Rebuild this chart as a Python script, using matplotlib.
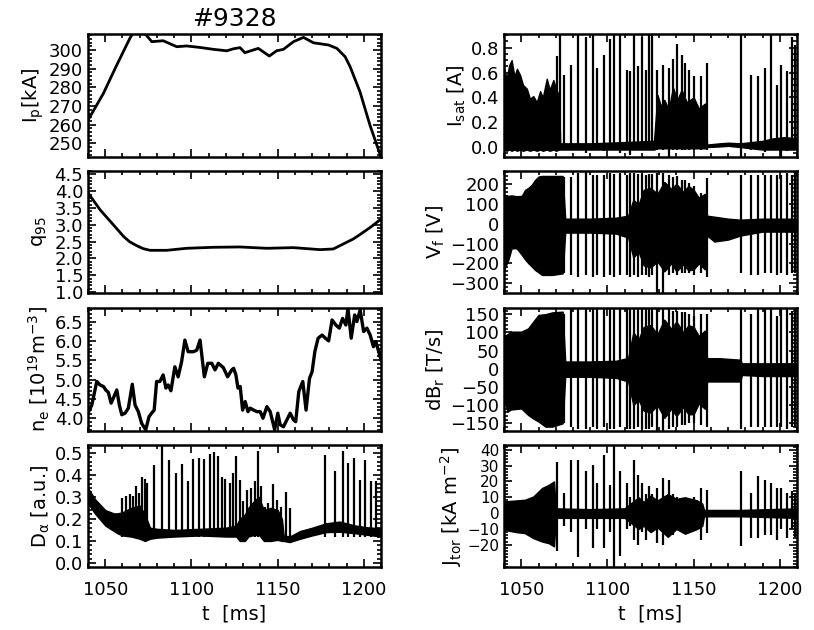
import matplotlib
matplotlib.use('Agg')
import matplotlib.pyplot as plt
import numpy as np
from matplotlib.ticker import MultipleLocator, FixedLocator

plt.rcParams['font.family'] = ['DejaVu Sans']
plt.rcParams['mathtext.default'] = 'regular'

shot = '#9328'

# ---- left column: slow signals ----
ip_t = [1040, 1048.9, 1056.7, 1064.4, 1067, 1072, 1077, 1083.6, 1091.5, 1097.2, 1105, 1112.7,
        1120.5, 1124.4, 1128.2, 1131, 1138.8, 1145.2, 1149.4, 1153.4, 1159.2, 1165, 1170.8,
        1179.6, 1184.4, 1189.2, 1192.1, 1197.8, 1203.6, 1210]
ip = [262.4, 276.7, 292.0, 306.5, 310.5, 310.0, 304.5, 305.0, 301.8, 302.2, 301.4, 300.4,
      299.6, 300.7, 301.3, 298.6, 300.9, 296.8, 299.6, 300.4, 304.5, 306.8, 303.9,
      302.7, 300.9, 296.4, 291.0, 277.6, 259.7, 242.6]

q95_t = [1040, 1047.1, 1054.7, 1060.5, 1064, 1068.2, 1072, 1076, 1085.7, 1097.2, 1112.7, 1128.2,
         1143.7, 1159.2, 1174.6, 1182.3, 1190.1, 1194, 1197.8, 1204, 1210]
q95 = [3.95, 3.44, 3.00, 2.66, 2.50, 2.38, 2.29, 2.24, 2.24, 2.30, 2.33, 2.34,
       2.30, 2.32, 2.26, 2.28, 2.48, 2.58, 2.71, 2.93, 3.17]

ne_t = [1040, 1042.2, 1045.1, 1047.0, 1049.0, 1050.3, 1051.8, 1053.4, 1054.7, 1056.7, 1058.2,
        1059.6, 1061.5, 1063.4, 1065.7, 1067.3, 1069.2, 1071.1, 1073.5, 1075.4, 1076.9, 1078.4,
        1079.8, 1081.7, 1083.6, 1085.2, 1086.5, 1088.1, 1090.4, 1092.3, 1094.3, 1096.2, 1098.1,
        1101.2, 1103.1, 1105.0, 1107.5, 1109.5, 1111.8, 1113.7, 1115.6, 1118.5, 1121.0, 1123.4,
        1124.5, 1125.8, 1127.0, 1128.3, 1129.7, 1131.2, 1132.8, 1134.1, 1136.1, 1138.0, 1139.9,
        1141.5, 1143.8, 1145.7, 1148.3, 1150.1, 1151.5, 1153.4, 1155.4, 1157.3, 1159.2, 1160.5,
        1162.3, 1164.6, 1166.5, 1168.5, 1170.0, 1171.6, 1173.5, 1175.8, 1177.7, 1179.6, 1181.6,
        1183.8, 1185.8, 1187.7, 1189.6, 1190.8, 1192.7, 1194.7, 1196.0, 1197.9, 1199.9, 1201.8,
        1203.7, 1205.6, 1207.0, 1210]
ne = [4.13, 4.34, 4.95, 4.86, 4.82, 4.73, 4.67, 4.39, 4.52, 4.73, 4.34,
      4.09, 4.13, 4.26, 4.88, 4.34, 4.17, 3.87, 3.70, 4.04, 4.13, 4.21,
      4.95, 4.95, 5.12, 4.78, 4.86, 4.71, 5.33, 5.07, 5.46, 6.02, 5.72,
      5.72, 5.76, 6.02, 5.07, 5.42, 5.42, 5.25, 5.42, 5.31, 5.07, 5.25,
      5.29, 5.12, 4.78, 4.82, 4.21, 4.43, 4.17, 4.26, 4.21, 4.17, 4.17,
      4.00, 4.30, 4.17, 3.70, 4.13, 3.83, 3.78, 3.96, 4.13, 3.96, 3.91,
      4.69, 4.95, 4.21, 5.03, 5.20, 5.72, 6.07, 6.15, 6.07, 6.00, 6.54,
      6.41, 6.33, 6.58, 6.41, 6.84, 6.07, 6.67, 6.50, 6.80, 6.24, 6.33,
      6.15, 5.85, 5.98, 5.51]

# D-alpha: noisy baseline band plus ELM spikes
da_band_t = [1040, 1044, 1050, 1055, 1057, 1060, 1065, 1070, 1073, 1076, 1080, 1090, 1105, 1120,
             1126, 1128, 1131, 1133, 1135, 1139, 1142, 1146, 1150, 1152.5, 1153.5, 1157, 1163,
             1170, 1178, 1186, 1195, 1202, 1210]
da_lo = [0.27, 0.225, 0.17, 0.145, 0.135, 0.125, 0.12, 0.11, 0.10, 0.11, 0.115, 0.12, 0.125, 0.12,
         0.12, 0.10, 0.10, 0.12, 0.125, 0.13, 0.10, 0.10, 0.105, 0.10, 0.10, 0.095, 0.11,
         0.125, 0.14, 0.142, 0.135, 0.128, 0.12]
da_hi = [0.34, 0.29, 0.24, 0.225, 0.225, 0.23, 0.25, 0.26, 0.22, 0.16, 0.155, 0.15, 0.155, 0.16,
         0.17, 0.20, 0.22, 0.25, 0.27, 0.30, 0.24, 0.25, 0.24, 0.20, 0.125, 0.12, 0.145,
         0.16, 0.18, 0.188, 0.17, 0.162, 0.157]
da_elm_t = [1060.0, 1062.3, 1064.3, 1066.2, 1068.1, 1069.5, 1071.4, 1073.0, 1074.5, 1078.3, 1083.2,
            1087.0, 1091.3, 1094.7, 1098.0, 1101.2, 1104.5, 1107.3, 1110.8, 1113.1, 1115.6,
            1117.9, 1119.5, 1122.4, 1124.3, 1125.8, 1128.3, 1130.2, 1132.2, 1134.7, 1136.6,
            1138.4, 1140.5, 1142.8, 1144.7, 1147.2, 1149.5, 1152.0, 1154.7, 1157.2, 1177.7,
            1183.1, 1187.7, 1191.1, 1194.6, 1197.9, 1200.8, 1204.2, 1206.9]
da_elm = [0.294, 0.302, 0.314, 0.302, 0.347, 0.317, 0.392, 0.380, 0.362, 0.445, 0.540,
          0.465, 0.408, 0.450, 0.373, 0.471, 0.475, 0.471, 0.495, 0.502, 0.486,
          0.392, 0.380, 0.362, 0.408, 0.483, 0.377, 0.279, 0.332, 0.340, 0.370,
          0.509, 0.347, 0.256, 0.271, 0.359, 0.286, 0.256, 0.324, 0.248, 0.491,
          0.415, 0.506, 0.453, 0.476, 0.377, 0.465, 0.370, 0.370]

# ---- right column: probe / magnetic signals ----
elm_t = [1070.5, 1075.0, 1078.7, 1083.1, 1087.6, 1091.5, 1093.8, 1098.2, 1101.5, 1104.0,
         1107.3, 1111.2, 1113.1, 1115.4, 1117.9, 1119.9, 1122.4, 1124.3, 1125.7, 1129.0,
         1132.5, 1135.7, 1138.3, 1140.2, 1143.1, 1145.0, 1147.4, 1150.4, 1154.3, 1157.6,
         1177.3, 1183.1, 1187.6, 1191.4, 1194.7, 1198.2, 1200.7, 1204.0, 1206.9, 1208.9]

isat_env_t = [1040, 1041.5, 1043, 1044.4, 1046, 1047.5, 1049.3, 1051, 1053.2, 1055, 1057, 1059,
              1060.9, 1062.5, 1064.8, 1066.5, 1068.6, 1070.2, 1071.9, 1072.6, 1090,
              1110, 1127, 1129, 1131, 1133, 1135.5, 1138, 1140.5, 1143, 1146, 1150, 1153,
              1156.5, 1157.8, 1165, 1170, 1177, 1190, 1196, 1203, 1210]
isat_hi = [0.64, 0.55, 0.66, 0.70, 0.57, 0.63, 0.58, 0.50, 0.47, 0.39, 0.41, 0.36,
           0.45, 0.40, 0.55, 0.46, 0.54, 0.47, 0.41, 0.03, 0.03,
           0.04, 0.05, 0.42, 0.33, 0.38, 0.30, 0.48, 0.38, 0.46, 0.36, 0.40, 0.31,
           0.35, 0.02, 0.03, 0.035, 0.03, 0.05, 0.07, 0.08, 0.07]
isat_lo = [-0.02, -0.03, -0.02, -0.03, -0.02, -0.03, -0.02, -0.03, -0.02, -0.03, -0.02, -0.03,
           -0.02, -0.03, -0.02, -0.03, -0.02, -0.03, -0.02, -0.02, -0.02,
           -0.02, -0.02, -0.01, -0.01, -0.01, -0.01, -0.01, -0.01, -0.01, -0.01, -0.01, -0.01,
           -0.01, 0.0, 0.005, 0.01, 0.0, -0.02, -0.02, -0.02, -0.02]
isat_up = [0.73, 0.58, 0.66, 0.95, 0.89, 0.95, 0.64, 0.74, 0.87, 0.90,
           0.95, 0.62, 0.61, 0.95, 0.65, 0.89, 0.62, 0.95, 0.95, 0.62,
           0.66, 0.64, 0.71, 0.83, 0.74, 0.68, 0.62, 0.57, 0.57, 0.68,
           0.95, 0.58, 0.57, 0.64, 0.95, 0.50, 0.66, 0.61, 0.89, 0.82]
isat_dn = [-0.03, -0.02, -0.02, -0.02, -0.05, -0.02, -0.02, -0.03, -0.02, -0.02,
           -0.05, -0.02, -0.06, -0.02, -0.02, -0.02, -0.02, -0.02, -0.02, -0.02,
           -0.02, -0.10, -0.02, -0.02, -0.02, -0.02, -0.02, -0.02, -0.02, -0.02,
           -0.10, -0.02, -0.02, -0.04, -0.02, -0.02, -0.10, -0.03, -0.02, -0.02]
isat_glitch_t = [1072.3]

vf_env_t = [1040, 1042.5, 1044.4, 1047.3, 1050.3, 1052.2, 1054.1, 1056, 1058, 1060, 1062, 1068,
            1074, 1075.5, 1090, 1105, 1112, 1115, 1118, 1121, 1125, 1129, 1133, 1137, 1140,
            1144, 1147, 1150, 1153, 1156.5, 1157.8, 1162, 1170, 1177, 1190, 1210]
vf_hi = [145, 140, 142, 138, 140, 170, 180, 195, 220, 237, 240, 240,
         240, 25, 25, 30, 40, 120, 95, 170, 180, 150, 210, 175, 200,
         160, 190, 170, 130, 150, 40, 35, 25, 20, 25, 25]
vf_lo = [-233, -182, -124, -124, -157, -180, -199, -215, -233, -245, -258, -258,
         -250, -45, -45, -50, -70, -170, -140, -210, -220, -190, -240, -200, -240,
         -205, -235, -230, -200, -230, -60, -90, -80, -60, -40, -40]
vf_up = [240, 237, 237, 254, 262, 245, 245, 245, 254, 250,
         254, 245, 254, 254, 250, 250, 245, 250, 250, 254,
         254, 245, 237, 240, 220, 220, 207, 187, 153, 228,
         245, 245, 245, 245, 245, 245, 245, 254, 245, 254]
vf_dn = [-250, -250, -258, -266, -258, -266, -258, -266, -258, -266,
         -258, -258, -266, -258, -266, -258, -258, -266, -258, -360,
         -360, -258, -250, -258, -250, -250, -250, -258, -250, -266,
         -250, -258, -258, -250, -250, -258, -250, -258, -250, -250]

db_env_t = [1040, 1042, 1044, 1050, 1054, 1057, 1060, 1064, 1068, 1074, 1075.5, 1090, 1105, 1112,
            1115, 1118, 1121, 1125, 1129, 1133, 1137, 1140, 1144, 1147, 1150, 1153, 1156.5,
            1157.8, 1165, 1177, 1178, 1190, 1210]
db_hi = [89, 95, 102, 102, 111, 130, 148, 150, 155, 157, 20, 20, 22, 30,
         100, 80, 115, 120, 95, 135, 110, 130, 100, 120, 115, 90, 105,
         29, 29, 25, 15, 15, 15]
db_lo = [-81, -118, -112, -109, -127, -137, -145, -159, -159, -150, -22, -22, -25, -35,
         -100, -85, -115, -120, -100, -135, -110, -130, -105, -125, -125, -95, -110,
         -35, -35, -35, -17, -20, -20]
db_up = [157, 150, 165, 170, 170, 165, 165, 165, 170, 165,
         170, 165, 165, 170, 165, 165, 165, 170, 170, 170,
         170, 165, 160, 160, 155, 155, 150, 145, 150, 150,
         170, 150, 165, 165, 165, 145, 165, 165, 160, 165]
db_dn = [-155, -150, -160, -165, -165, -160, -165, -160, -165, -165,
         -160, -165, -165, -165, -160, -165, -165, -165, -160, -172,
         -172, -165, -160, -160, -155, -155, -150, -150, -155, -160,
         -165, -160, -160, -160, -160, -160, -160, -165, -160, -160]

j_env_t = [1040, 1047, 1052, 1057, 1062, 1066, 1069, 1070, 1090, 1110, 1118, 1121, 1125, 1129,
           1135, 1140, 1145, 1152, 1155, 1156, 1177, 1210]
j_hi = [7.4, 8.0, 8.4, 10.5, 15.8, 17.9, 20.0, 3.0, 2.5, 3.0, 10.0, 7.0, 11.0, 8.0,
        12.0, 9.0, 10.0, 8.0, 6.0, 2.0, 2.0, 3.0]
j_lo = [-10.5, -12.0, -12.6, -15.8, -17.9, -19.0, -21.0, -3.0, -3.0, -3.0, -10.0, -8.0, -12.0,
        -9.0, -15.0, -10.0, -13.0, -10.0, -8.0, -2.0, -2.0, -3.0]
j_up = [32.2, 12.6, 33.7, 33.7, 26.3, 30.5, 18.9, 36.8, 17.9, 45.0,
        26.3, 18.9, 10.0, 33.7, 24.2, 18.9, 12.0, 16.8, 12.0, 15.8,
        22.1, 21.0, 12.0, 10.0, 8.0, 9.0, 8.0, 10.0, 15.8, 14.7,
        26.3, 12.6, 23.2, 21.0, 18.9, 15.8, 16.0, 12.6, 14.0, 12.6]
j_dn = [-24.0, -8.0, -12.0, -27.4, -10.0, -22.0, -10.0, -22.0, -12.0, -40.0,
        -27.0, -10.0, -8.0, -16.8, -20.0, -12.0, -16.8, -10.0, -12.0, -19.0,
        -20.0, -15.0, -14.0, -10.0, -10.0, -9.0, -8.0, -10.5, -16.8, -12.6,
        -21.0, -16.0, -16.0, -14.0, -14.0, -17.0, -10.0, -16.0, -10.0, -15.0]
j_ticks = [-20, -10, 0, 10, 20, 30, 40]


def style(ax, ylim, major, minor, bottom=False, labelsize=13):
    ax.set_xlim(1040, 1210)
    ax.set_ylim(*ylim)
    ax.xaxis.set_major_locator(MultipleLocator(50))
    ax.xaxis.set_minor_locator(MultipleLocator(10))
    if np.ndim(major):
        ax.yaxis.set_major_locator(FixedLocator(major))
    else:
        ax.yaxis.set_major_locator(MultipleLocator(major))
    ax.yaxis.set_minor_locator(MultipleLocator(minor))
    ax.tick_params(which='both', direction='in', top=True, right=True, width=1.2,
                   labelsize=labelsize, labelbottom=bottom)
    ax.tick_params(axis='x', labelsize=13, pad=10)
    ax.tick_params(which='major', length=6)
    ax.tick_params(which='minor', length=3)
    for s in ax.spines.values():
        s.set_linewidth(1.8)
    if bottom:
        ax.set_xlabel('t  [ms]', fontsize=14, labelpad=4)


fig = plt.figure(figsize=(8.14, 6.3), dpi=100)
lx, rx, w = 0.1081, 0.6192, 0.36
rows = [(0.7508, 0.1952), (0.5349, 0.1937), (0.3159, 0.1952), (0.1000, 0.1937)]
axl = [fig.add_axes([lx, b, w, h]) for b, h in rows]
axr = [fig.add_axes([rx, b, w, h]) for b, h in rows]

# plasma current
ax = axl[0]
ax.plot(ip_t, ip, color='k', lw=2)
style(ax, (242.7, 308.6), 10, 2)
ax.set_ylabel('I$_p$[kA]', fontsize=14, labelpad=2)
ax.set_title(shot, fontsize=18, pad=6)

# safety factor
ax = axl[1]
ax.plot(q95_t, q95, color='k', lw=2)
style(ax, (0.97, 4.6), 0.5, 0.1)
ax.yaxis.set_major_formatter(plt.FormatStrFormatter('%.1f'))
ax.set_ylabel('q$_{95}$', fontsize=14, labelpad=4)

# line density
ax = axl[2]
ax.plot(ne_t, ne, color='k', lw=2.4)
style(ax, (3.67, 6.85), 0.5, 0.1)
ax.yaxis.set_major_formatter(plt.FormatStrFormatter('%.1f'))
ax.set_ylabel('n$_e$ [10$^{19}$m$^{-3}$]', fontsize=14, labelpad=2)

# D-alpha
ax = axl[3]
ax.fill_between(da_band_t, da_lo, da_hi, color='k', lw=1)
ax.vlines(da_elm_t, 0.12, da_elm, color='k', lw=1.6)
style(ax, (-0.018, 0.535), 0.1, 0.02, bottom=True)
ax.yaxis.set_major_formatter(plt.FormatStrFormatter('%.1f'))
ax.set_ylabel(r'D$_\alpha$ [a.u.]', fontsize=14, labelpad=2)

# ion saturation current
ax = axr[0]
ax.fill_between(isat_env_t, isat_lo, isat_hi, color='k', lw=1)
ax.vlines(elm_t, isat_dn, isat_up, color='k', lw=1.6)
ax.vlines(isat_glitch_t, -0.02, 0.95, color='k', lw=1.6)
style(ax, (-0.08, 0.91), 0.2, 0.05)
ax.yaxis.set_major_formatter(plt.FormatStrFormatter('%.1f'))
ax.set_ylabel('I$_{sat}$ [A]', fontsize=14, labelpad=2)

# floating potential
ax = axr[1]
ax.fill_between(vf_env_t, vf_lo, vf_hi, color='k', lw=1)
ax.vlines(elm_t, vf_dn, vf_up, color='k', lw=1.6)
style(ax, (-349, 265), 100, 20)
ax.set_ylabel('V$_f$ [V]', fontsize=14, labelpad=2)

# radial field fluctuation
ax = axr[2]
ax.fill_between(db_env_t, db_lo, db_hi, color='k', lw=1)
ax.vlines(elm_t, db_dn, db_up, color='k', lw=1.6)
style(ax, (-171, 167), 50, 10)
ax.set_ylabel('dB$_r$ [T/s]', fontsize=14, labelpad=2)

# toroidal current density
ax = axr[3]
ax.fill_between(j_env_t, j_lo, j_hi, color='k', lw=1)
ax.vlines(elm_t, j_dn, j_up, color='k', lw=1.6)
style(ax, (-34, 43), j_ticks, 2, bottom=True, labelsize=11)
ax.set_ylabel('J$_{tor}$ [kA m$^{-2}$]', fontsize=14, labelpad=2)

fig.savefig('out.png', dpi=100)
